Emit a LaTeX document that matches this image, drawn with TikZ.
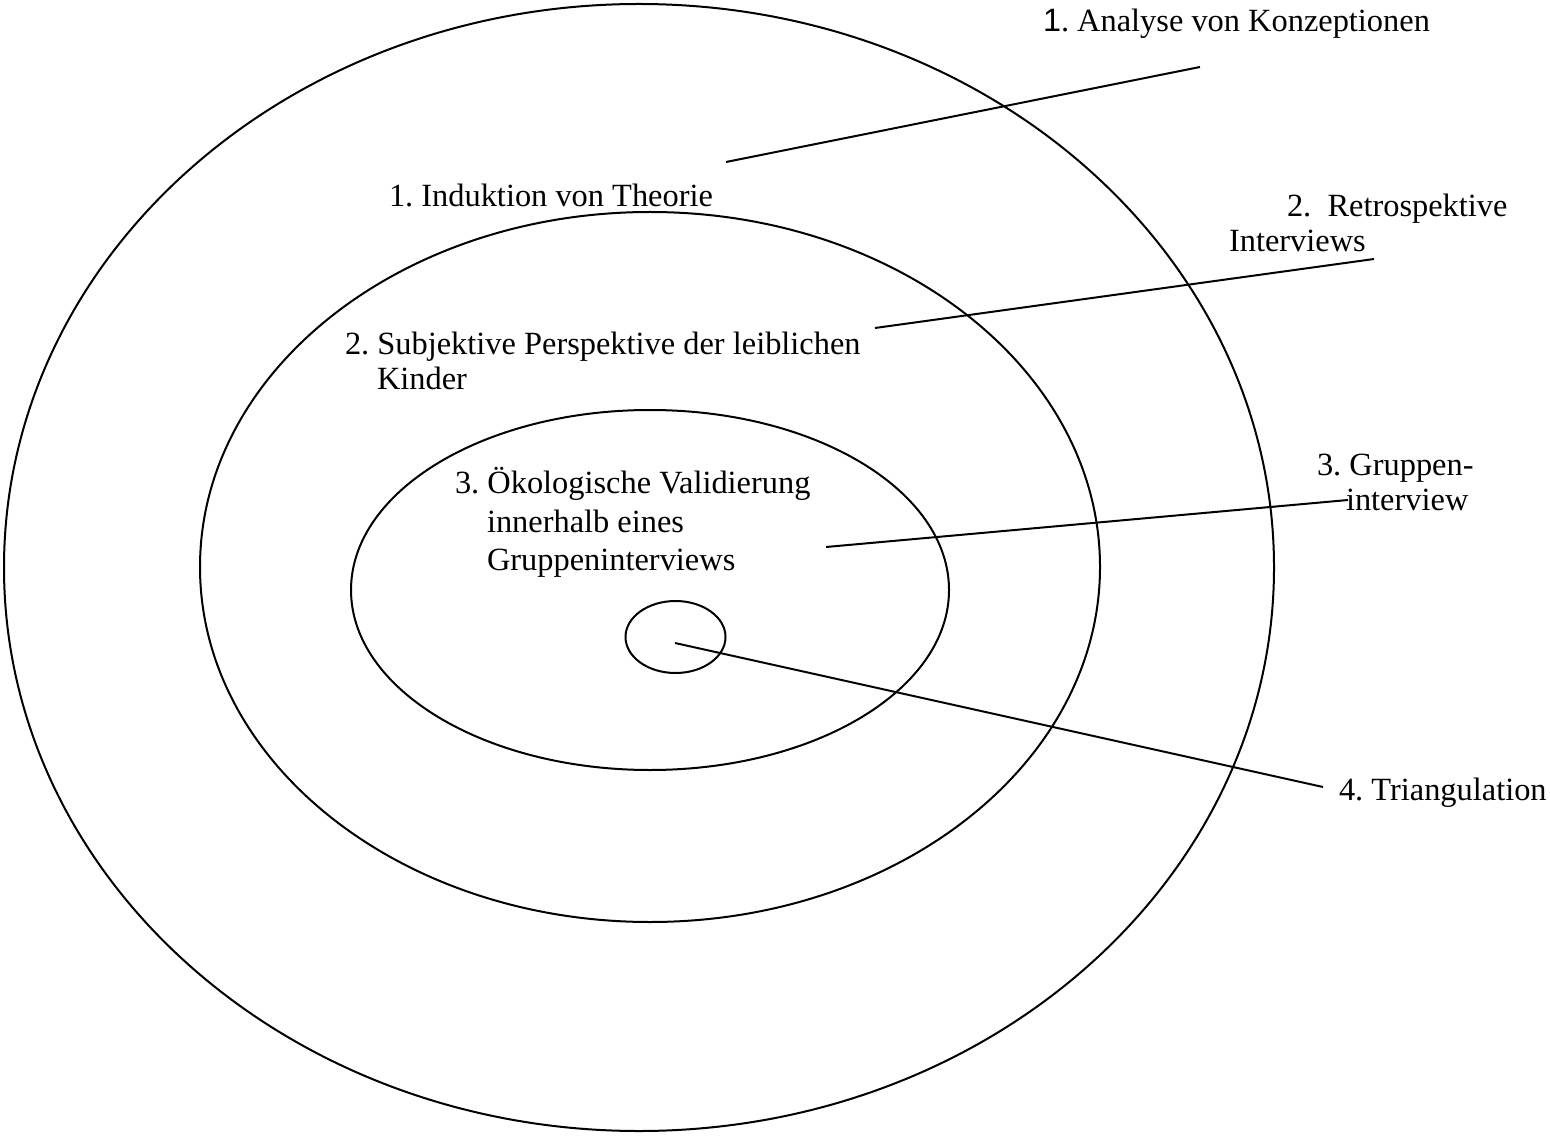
\documentclass[tikz,border=0pt]{standalone}
\usepackage{fontspec}
\setmainfont{Liberation Serif}
\newfontfamily\arialfont{Liberation Sans}
\begin{document}
\begin{tikzpicture}[x=0.5pt,y=-0.5pt,
  ring/.style={draw=black,line width=1pt},
  leader/.style={draw=black,line width=1pt},
  lbl/.style={anchor=base west,inner sep=0pt,outer sep=0pt,font=\fontsize{16.2}{18.5}\selectfont}]
\useasboundingbox (0,0) rectangle (1550,1138);

% concentric rings
\draw[ring] (639,567.5) ellipse [x radius=635,y radius=563.5];
\draw[ring] (650,567) ellipse [x radius=450,y radius=355];
\draw[ring] (650,590) ellipse [x radius=299,y radius=180];
\draw[ring] (675.5,637) ellipse [x radius=50,y radius=36];

% anchor points of the leader lines
\coordinate (p1a) at (726,162);  \coordinate (p1b) at (1200,67);
\coordinate (p2a) at (875,328);  \coordinate (p2b) at (1374,259);
\coordinate (p3a) at (826,547);  \coordinate (p3b) at (1348,500);
\coordinate (p4a) at (675,643);  \coordinate (p4b) at (1323,787);
\draw[leader] (p1a) -- (p1b);
\draw[leader] (p2a) -- (p2b);
\draw[leader] (p3a) -- (p3b);
\draw[leader] (p4a) -- (p4b);

% labels inside the rings
\node[lbl] (induktion) at (389,207) {1.\ Induktion von Theorie};
\node[lbl] (subj1) at (345,355) {2.\ Subjektive Perspektive der leiblichen};
\node[lbl] (subj2) at (377,390) {Kinder};
\node[lbl] (oeko1) at (455,493) {3.\ Ökologische Validierung};
\node[lbl] (oeko2) at (487,532) {innerhalb eines};
\node[lbl] (oeko3) at (487,570) {Gruppeninterviews};

% method labels on the right
\node[lbl] (analyse) at (1043,32) {{\arialfont 1}.\ Analyse von Konzeptionen};
\node[lbl] (retro1) at (1287,217) {2.\ \ Retrospektive};
\node[lbl] (retro2) at (1229,252) {Interviews};
\node[lbl] (grp1) at (1317,475) {3.\ Gruppen-};
\node[lbl] (grp2) at (1346,510) {interview};
\node[lbl] (tri) at (1339,800) {4.\ Triangulation};
\end{tikzpicture}
\end{document}
